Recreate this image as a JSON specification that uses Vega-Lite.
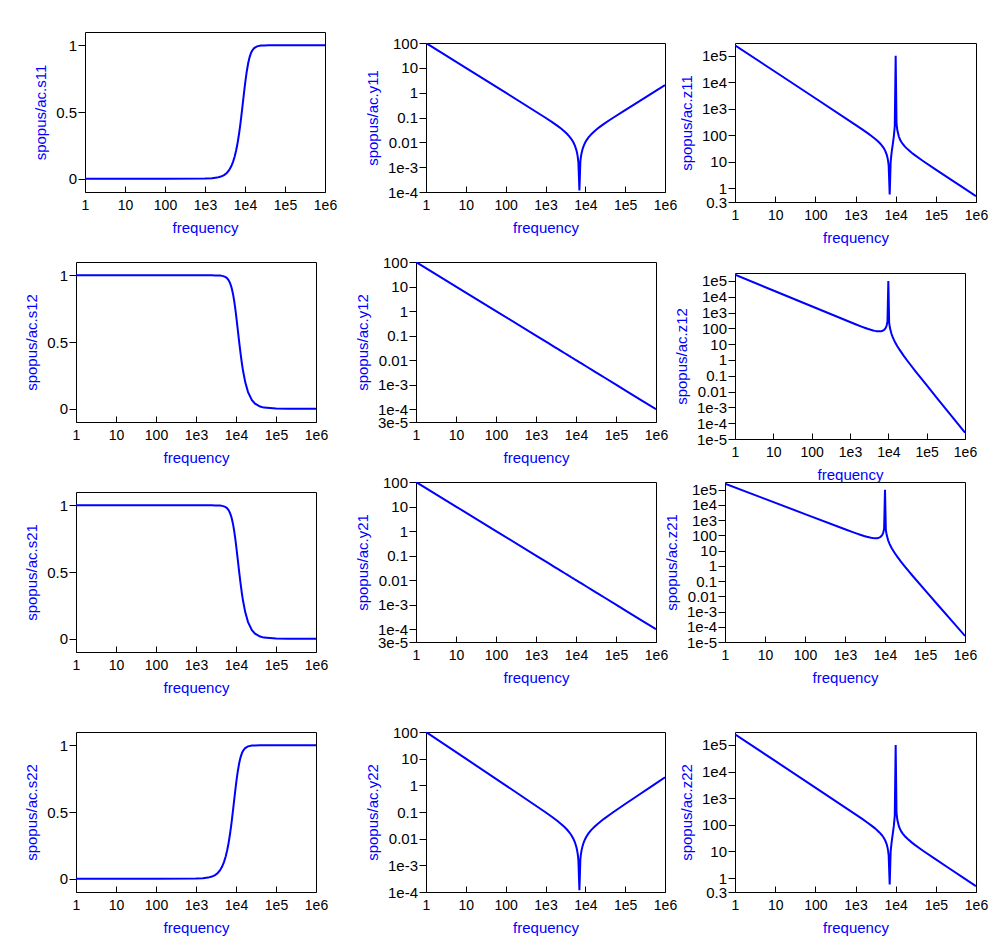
{
  "$schema": "https://vega.github.io/schema/vega-lite/v6.json",
  "padding": 0,
  "background": "white",
  "datasets": {
    "sp": [
      {"f": 1, "s11": 0, "s12": 1, "s21": 1, "s22": 0, "y11": 100, "y12": 100, "y21": 100, "y22": 100, "z11": 250000, "z12": 250000, "z21": 250000, "z22": 250000},
      {"f": 10, "s11": 0, "s12": 1, "s21": 1, "s22": 0, "y11": 10, "y12": 10, "y21": 10, "y22": 10, "z11": 25000, "z12": 25000, "z21": 25000, "z22": 25000},
      {"f": 100, "s11": 0, "s12": 1, "s21": 1, "s22": 0, "y11": 1.0, "y12": 1.0, "y21": 1.0, "y22": 1.0, "z11": 2500, "z12": 2500, "z21": 2500, "z22": 2500},
      {"f": 1000, "s11": 0.001, "s12": 1, "s21": 1, "s22": 0.001, "y11": 0.098, "y12": 0.1, "y21": 0.1, "y22": 0.098, "z11": 247.5, "z12": 252.5, "z21": 252.5, "z22": 247.5},
      {"f": 1500, "s11": 0.0034, "s12": 1, "s21": 1, "s22": 0.0034, "y11": 0.0637, "y12": 0.0667, "y21": 0.0667, "y22": 0.0637, "z11": 162.8, "z12": 170.5, "z21": 170.5, "z22": 162.8},
      {"f": 2000, "s11": 0.008, "s12": 1, "s21": 1, "s22": 0.008, "y11": 0.046, "y12": 0.05, "y21": 0.05, "y22": 0.046, "z11": 119.8, "z12": 130.2, "z21": 130.2, "z22": 119.8},
      {"f": 2500, "s11": 0.0156, "s12": 0.9999, "s21": 0.9999, "s22": 0.0156, "y11": 0.035, "y12": 0.04, "y21": 0.04, "y22": 0.035, "z11": 93.3, "z12": 106.7, "z21": 106.7, "z22": 93.3},
      {"f": 3000, "s11": 0.027, "s12": 0.9996, "s21": 0.9996, "s22": 0.027, "y11": 0.0273, "y12": 0.0333, "y21": 0.0333, "y22": 0.0273, "z11": 75.1, "z12": 91.6, "z21": 91.6, "z22": 75.1},
      {"f": 3500, "s11": 0.0429, "s12": 0.9991, "s21": 0.9991, "s22": 0.0429, "y11": 0.0216, "y12": 0.0286, "y21": 0.0286, "y22": 0.0216, "z11": 61.5, "z12": 81.4, "z21": 81.4, "z22": 61.5},
      {"f": 4000, "s11": 0.0639, "s12": 0.998, "s21": 0.998, "s22": 0.0639, "y11": 0.017, "y12": 0.025, "y21": 0.025, "y22": 0.017, "z11": 50.6, "z12": 74.4, "z21": 74.4, "z22": 50.6},
      {"f": 4500, "s11": 0.0907, "s12": 0.9959, "s21": 0.9959, "s22": 0.0907, "y11": 0.0132, "y12": 0.0222, "y21": 0.0222, "y22": 0.0132, "z11": 41.5, "z12": 69.7, "z21": 69.7, "z22": 41.5},
      {"f": 5000, "s11": 0.124, "s12": 0.9923, "s21": 0.9923, "s22": 0.124, "y11": 0.01, "y12": 0.02, "y21": 0.02, "y22": 0.01, "z11": 33.3, "z12": 66.7, "z21": 66.7, "z22": 33.3},
      {"f": 5500, "s11": 0.1641, "s12": 0.9864, "s21": 0.9864, "s22": 0.1641, "y11": 0.00718, "y12": 0.0182, "y21": 0.0182, "y22": 0.00718, "z11": 25.7, "z12": 65.2, "z21": 65.2, "z22": 25.7},
      {"f": 6000, "s11": 0.2111, "s12": 0.9775, "s21": 0.9775, "s22": 0.2111, "y11": 0.00467, "y12": 0.0167, "y21": 0.0167, "y22": 0.00467, "z11": 18.2, "z12": 65.1, "z21": 65.1, "z22": 18.2},
      {"f": 6300, "s11": 0.2426, "s12": 0.9701, "s21": 0.9701, "s22": 0.2426, "y11": 0.00327, "y12": 0.0159, "y21": 0.0159, "y22": 0.00327, "z11": 13.6, "z12": 65.8, "z21": 65.8, "z22": 13.6},
      {"f": 6500, "s11": 0.2648, "s12": 0.9643, "s21": 0.9643, "s22": 0.2648, "y11": 0.00239, "y12": 0.0154, "y21": 0.0154, "y22": 0.00239, "z11": 10.3, "z12": 66.6, "z21": 66.6, "z22": 10.3},
      {"f": 6700, "s11": 0.288, "s12": 0.9576, "s21": 0.9576, "s22": 0.288, "y11": 0.00153, "y12": 0.0149, "y21": 0.0149, "y22": 0.00153, "z11": 6.92, "z12": 67.7, "z21": 67.7, "z22": 6.92},
      {"f": 7100, "s11": 0.337, "s12": 0.9415, "s21": 0.9415, "s22": 0.337, "y11": 0.000116, "y12": 0.0141, "y21": 0.0141, "y22": 0.000116, "z11": 0.58, "z12": 71.0, "z21": 71.0, "z22": 0.58},
      {"f": 7500, "s11": 0.3887, "s12": 0.9214, "s21": 0.9214, "s22": 0.3887, "y11": 0.00167, "y12": 0.0133, "y21": 0.0133, "y22": 0.00167, "z11": 9.52, "z12": 76.2, "z21": 76.2, "z22": 9.52},
      {"f": 7700, "s11": 0.4153, "s12": 0.9097, "s21": 0.9097, "s22": 0.4153, "y11": 0.00241, "y12": 0.013, "y21": 0.013, "y22": 0.00241, "z11": 14.8, "z12": 79.8, "z21": 79.8, "z22": 14.8},
      {"f": 8000, "s11": 0.4557, "s12": 0.8901, "s21": 0.8901, "s22": 0.4557, "y11": 0.0035, "y12": 0.0125, "y21": 0.0125, "y22": 0.0035, "z11": 24.3, "z12": 86.8, "z21": 86.8, "z22": 24.3},
      {"f": 8500, "s11": 0.5241, "s12": 0.8534, "s21": 0.8534, "s22": 0.5241, "y11": 0.00524, "y12": 0.0118, "y21": 0.0118, "y22": 0.00524, "z11": 47.2, "z12": 106, "z21": 106, "z22": 47.2},
      {"f": 9000, "s11": 0.5891, "s12": 0.8081, "s21": 0.8081, "s22": 0.5891, "y11": 0.00689, "y12": 0.0111, "y21": 0.0111, "y22": 0.00689, "z11": 90.6, "z12": 146.2, "z21": 146.2, "z22": 90.6},
      {"f": 9500, "s11": 0.6509, "s12": 0.7592, "s21": 0.7592, "s22": 0.6509, "y11": 0.00847, "y12": 0.0105, "y21": 0.0105, "y22": 0.00847, "z11": 217.3, "z12": 269.9, "z21": 269.9, "z22": 217.3},
      {"f": 10000, "s11": 0.7071, "s12": 0.7071, "s21": 0.7071, "s22": 0.7071, "y11": 0.01, "y12": 0.01, "y21": 0.01, "y22": 0.01, "z11": 100000, "z12": 100000, "z21": 100000, "z22": 100000},
      {"f": 10500, "s11": 0.7567, "s12": 0.6537, "s21": 0.6537, "s22": 0.7567, "y11": 0.0115, "y12": 0.00952, "y21": 0.00952, "y22": 0.0115, "z11": 279.9, "z12": 232.3, "z21": 232.3, "z22": 279.9},
      {"f": 11000, "s11": 0.7995, "s12": 0.6007, "s21": 0.6007, "s22": 0.7995, "y11": 0.0129, "y12": 0.00909, "y21": 0.00909, "y22": 0.0129, "z11": 153.7, "z12": 108.2, "z21": 108.2, "z22": 153.7},
      {"f": 12000, "s11": 0.8655, "s12": 0.5009, "s21": 0.5009, "s22": 0.8655, "y11": 0.0157, "y12": 0.00833, "y21": 0.00833, "y22": 0.0157, "z11": 89.0, "z12": 47.3, "z21": 47.3, "z22": 89.0},
      {"f": 13000, "s11": 0.9101, "s12": 0.4143, "s21": 0.4143, "s22": 0.9101, "y11": 0.0183, "y12": 0.00769, "y21": 0.00769, "y22": 0.0183, "z11": 66.3, "z12": 27.9, "z21": 27.9, "z22": 66.3},
      {"f": 14000, "s11": 0.9395, "s12": 0.3424, "s21": 0.3424, "s22": 0.9395, "y11": 0.0209, "y12": 0.00714, "y21": 0.00714, "y22": 0.0209, "z11": 54.3, "z12": 18.6, "z21": 18.6, "z22": 54.3},
      {"f": 15000, "s11": 0.9588, "s12": 0.2841, "s21": 0.2841, "s22": 0.9588, "y11": 0.0233, "y12": 0.00667, "y21": 0.00667, "y22": 0.0233, "z11": 46.7, "z12": 13.3, "z21": 13.3, "z22": 46.7},
      {"f": 17000, "s11": 0.9799, "s12": 0.1995, "s21": 0.1995, "s22": 0.9799, "y11": 0.0281, "y12": 0.00588, "y21": 0.00588, "y22": 0.0281, "z11": 37.2, "z12": 7.78, "z21": 7.78, "z22": 37.2},
      {"f": 20000, "s11": 0.9923, "s12": 0.124, "s21": 0.124, "s22": 0.9923, "y11": 0.035, "y12": 0.005, "y21": 0.005, "y22": 0.035, "z11": 29.2, "z12": 4.17, "z21": 4.17, "z22": 29.2},
      {"f": 25000, "s11": 0.998, "s12": 0.0639, "s21": 0.0639, "s22": 0.998, "y11": 0.046, "y12": 0.004, "y21": 0.004, "y22": 0.046, "z11": 21.9, "z12": 1.905, "z21": 1.905, "z22": 21.9},
      {"f": 30000, "s11": 0.9993, "s12": 0.037, "s21": 0.037, "s22": 0.9993, "y11": 0.0567, "y12": 0.00333, "y21": 0.00333, "y22": 0.0567, "z11": 17.7, "z12": 1.04, "z21": 1.04, "z22": 17.7},
      {"f": 40000, "s11": 0.9999, "s12": 0.0156, "s21": 0.0156, "s22": 0.9999, "y11": 0.0775, "y12": 0.0025, "y21": 0.0025, "y22": 0.0775, "z11": 12.9, "z12": 0.417, "z21": 0.417, "z22": 12.9},
      {"f": 50000, "s11": 1, "s12": 0.008, "s21": 0.008, "s22": 1, "y11": 0.098, "y12": 0.002, "y21": 0.002, "y22": 0.098, "z11": 10.2, "z12": 0.208, "z21": 0.208, "z22": 10.2},
      {"f": 100000, "s11": 1, "s12": 0.001, "s21": 0.001, "s22": 1, "y11": 0.199, "y12": 0.001, "y21": 0.001, "y22": 0.199, "z11": 5.03, "z12": 0.0253, "z21": 0.0253, "z22": 5.03},
      {"f": 200000, "s11": 1, "s12": 0.0001, "s21": 0.0001, "s22": 1, "y11": 0.3995, "y12": 0.0005, "y21": 0.0005, "y22": 0.3995, "z11": 2.5, "z12": 0.00313, "z21": 0.00313, "z22": 2.5},
      {"f": 500000, "s11": 1, "s12": 0, "s21": 0, "s22": 1, "y11": 1.0, "y12": 0.0002, "y21": 0.0002, "y22": 1.0, "z11": 1.0, "z12": 0.0002, "z21": 0.0002, "z22": 1.0},
      {"f": 1000000, "s11": 1, "s12": 0, "s21": 0, "s22": 1, "y11": 2.0, "y12": 0.0001, "y21": 0.0001, "y22": 2.0, "z11": 0.5, "z12": 0.000025, "z21": 0.000025, "z22": 0.5}
    ]
  },
  "bounds": "flush",
  "spacing": 0,
  "hconcat": [
    {"bounds": "flush", "spacing": 0, "vconcat": [
      {"width": 1, "height": 32, "data": {"values": []}, "mark": "point", "encoding": {}, "view": {"stroke": null}},
      {"bounds": "flush", "spacing": 0, "hconcat": [
        {"width": 85, "height": 1, "data": {"values": []}, "mark": "point", "encoding": {}, "view": {"stroke": null}},
        {"width": 240, "height": 160, "data": {"name": "sp"},
         "mark": {"type": "line", "color": "#0000ff", "strokeWidth": 2, "clip": true},
         "encoding": {
           "x": {"field": "f", "type": "quantitative", "title": "frequency", "scale": {"type": "log", "domain": [1, 1000000], "nice": false}, "axis": {"values": [1, 10, 100, 1000, 10000, 100000, 1000000], "labelExpr": "datum.value >= 1000 ? '1e' + round(log(datum.value) / LN10) : format(datum.value, '')"}},
           "y": {"field": "s11", "type": "quantitative", "title": "spopus/ac.s11", "scale": {"domain": [-0.1, 1.1], "nice": false, "zero": false}, "axis": {"values": [0, 0.5, 1], "labelExpr": "format(datum.value, '')"}}
         }}
      ]}
    ]},
    {"bounds": "flush", "spacing": 0, "vconcat": [
      {"width": 1, "height": 43, "data": {"values": []}, "mark": "point", "encoding": {}, "view": {"stroke": null}},
      {"bounds": "flush", "spacing": 0, "hconcat": [
        {"width": 426, "height": 1, "data": {"values": []}, "mark": "point", "encoding": {}, "view": {"stroke": null}},
        {"width": 239, "height": 149, "data": {"name": "sp"},
         "mark": {"type": "line", "color": "#0000ff", "strokeWidth": 2, "clip": true},
         "encoding": {
           "x": {"field": "f", "type": "quantitative", "title": "frequency", "scale": {"type": "log", "domain": [1, 1000000], "nice": false}, "axis": {"values": [1, 10, 100, 1000, 10000, 100000, 1000000], "labelExpr": "datum.value >= 1000 ? '1e' + round(log(datum.value) / LN10) : format(datum.value, '')"}},
           "y": {"field": "y11", "type": "quantitative", "title": "spopus/ac.y11", "scale": {"type": "log", "domain": [0.0001, 100], "nice": false}, "axis": {"values": [0.0001, 0.001, 0.01, 0.1, 1, 10, 100], "labelExpr": "abs(datum.value - 3e-5) < 1e-6 ? '3e-5' : (datum.value >= 1000 || datum.value < 0.005) ? '1e' + round(log(datum.value) / LN10) : format(datum.value, '')"}}
         }}
      ]}
    ]},
    {"bounds": "flush", "spacing": 0, "vconcat": [
      {"width": 1, "height": 43, "data": {"values": []}, "mark": "point", "encoding": {}, "view": {"stroke": null}},
      {"bounds": "flush", "spacing": 0, "hconcat": [
        {"width": 735, "height": 1, "data": {"values": []}, "mark": "point", "encoding": {}, "view": {"stroke": null}},
        {"width": 241, "height": 159, "data": {"name": "sp"},
         "mark": {"type": "line", "color": "#0000ff", "strokeWidth": 2, "clip": true},
         "encoding": {
           "x": {"field": "f", "type": "quantitative", "title": "frequency", "scale": {"type": "log", "domain": [1, 1000000], "nice": false}, "axis": {"values": [1, 10, 100, 1000, 10000, 100000, 1000000], "labelExpr": "datum.value >= 1000 ? '1e' + round(log(datum.value) / LN10) : format(datum.value, '')"}},
           "y": {"field": "z11", "type": "quantitative", "title": "spopus/ac.z11", "scale": {"type": "log", "domain": [0.3, 305000], "nice": false}, "axis": {"values": [0.3, 1, 10, 100, 1000, 10000, 100000], "labelExpr": "abs(datum.value - 3e-5) < 1e-6 ? '3e-5' : (datum.value >= 1000 || datum.value < 0.005) ? '1e' + round(log(datum.value) / LN10) : format(datum.value, '')"}}
         }}
      ]}
    ]},
    {"bounds": "flush", "spacing": 0, "vconcat": [
      {"width": 1, "height": 262, "data": {"values": []}, "mark": "point", "encoding": {}, "view": {"stroke": null}},
      {"bounds": "flush", "spacing": 0, "hconcat": [
        {"width": 76, "height": 1, "data": {"values": []}, "mark": "point", "encoding": {}, "view": {"stroke": null}},
        {"width": 240, "height": 160, "data": {"name": "sp"},
         "mark": {"type": "line", "color": "#0000ff", "strokeWidth": 2, "clip": true},
         "encoding": {
           "x": {"field": "f", "type": "quantitative", "title": "frequency", "scale": {"type": "log", "domain": [1, 1000000], "nice": false}, "axis": {"values": [1, 10, 100, 1000, 10000, 100000, 1000000], "labelExpr": "datum.value >= 1000 ? '1e' + round(log(datum.value) / LN10) : format(datum.value, '')"}},
           "y": {"field": "s12", "type": "quantitative", "title": "spopus/ac.s12", "scale": {"domain": [-0.1, 1.1], "nice": false, "zero": false}, "axis": {"values": [0, 0.5, 1], "labelExpr": "format(datum.value, '')"}}
         }}
      ]}
    ]},
    {"bounds": "flush", "spacing": 0, "vconcat": [
      {"width": 1, "height": 262, "data": {"values": []}, "mark": "point", "encoding": {}, "view": {"stroke": null}},
      {"bounds": "flush", "spacing": 0, "hconcat": [
        {"width": 416, "height": 1, "data": {"values": []}, "mark": "point", "encoding": {}, "view": {"stroke": null}},
        {"width": 240, "height": 160, "data": {"name": "sp"},
         "mark": {"type": "line", "color": "#0000ff", "strokeWidth": 2, "clip": true},
         "encoding": {
           "x": {"field": "f", "type": "quantitative", "title": "frequency", "scale": {"type": "log", "domain": [1, 1000000], "nice": false}, "axis": {"values": [1, 10, 100, 1000, 10000, 100000, 1000000], "labelExpr": "datum.value >= 1000 ? '1e' + round(log(datum.value) / LN10) : format(datum.value, '')"}},
           "y": {"field": "y12", "type": "quantitative", "title": "spopus/ac.y12", "scale": {"type": "log", "domain": [0.00003, 100], "nice": false}, "axis": {"values": [0.00003, 0.0001, 0.001, 0.01, 0.1, 1, 10, 100], "labelExpr": "abs(datum.value - 3e-5) < 1e-6 ? '3e-5' : (datum.value >= 1000 || datum.value < 0.005) ? '1e' + round(log(datum.value) / LN10) : format(datum.value, '')"}}
         }}
      ]}
    ]},
    {"bounds": "flush", "spacing": 0, "vconcat": [
      {"width": 1, "height": 273, "data": {"values": []}, "mark": "point", "encoding": {}, "view": {"stroke": null}},
      {"bounds": "flush", "spacing": 0, "hconcat": [
        {"width": 735, "height": 1, "data": {"values": []}, "mark": "point", "encoding": {}, "view": {"stroke": null}},
        {"width": 230, "height": 166, "data": {"name": "sp"},
         "mark": {"type": "line", "color": "#0000ff", "strokeWidth": 2, "clip": true},
         "encoding": {
           "x": {"field": "f", "type": "quantitative", "title": "frequency", "scale": {"type": "log", "domain": [1, 1000000], "nice": false}, "axis": {"values": [1, 10, 100, 1000, 10000, 100000, 1000000], "labelExpr": "datum.value >= 1000 ? '1e' + round(log(datum.value) / LN10) : format(datum.value, '')"}},
           "y": {"field": "z12", "type": "quantitative", "title": "spopus/ac.z12", "scale": {"type": "log", "domain": [0.00001, 320000], "nice": false}, "axis": {"values": [0.00001, 0.0001, 0.001, 0.01, 0.1, 1, 10, 100, 1000, 10000, 100000], "labelExpr": "abs(datum.value - 3e-5) < 1e-6 ? '3e-5' : (datum.value >= 1000 || datum.value < 0.005) ? '1e' + round(log(datum.value) / LN10) : format(datum.value, '')"}}
         }}
      ]}
    ]},
    {"bounds": "flush", "spacing": 0, "vconcat": [
      {"width": 1, "height": 492, "data": {"values": []}, "mark": "point", "encoding": {}, "view": {"stroke": null}},
      {"bounds": "flush", "spacing": 0, "hconcat": [
        {"width": 76, "height": 1, "data": {"values": []}, "mark": "point", "encoding": {}, "view": {"stroke": null}},
        {"width": 240, "height": 160, "data": {"name": "sp"},
         "mark": {"type": "line", "color": "#0000ff", "strokeWidth": 2, "clip": true},
         "encoding": {
           "x": {"field": "f", "type": "quantitative", "title": "frequency", "scale": {"type": "log", "domain": [1, 1000000], "nice": false}, "axis": {"values": [1, 10, 100, 1000, 10000, 100000, 1000000], "labelExpr": "datum.value >= 1000 ? '1e' + round(log(datum.value) / LN10) : format(datum.value, '')"}},
           "y": {"field": "s21", "type": "quantitative", "title": "spopus/ac.s21", "scale": {"domain": [-0.1, 1.1], "nice": false, "zero": false}, "axis": {"values": [0, 0.5, 1], "labelExpr": "format(datum.value, '')"}}
         }}
      ]}
    ]},
    {"bounds": "flush", "spacing": 0, "vconcat": [
      {"width": 1, "height": 482, "data": {"values": []}, "mark": "point", "encoding": {}, "view": {"stroke": null}},
      {"bounds": "flush", "spacing": 0, "hconcat": [
        {"width": 416, "height": 1, "data": {"values": []}, "mark": "point", "encoding": {}, "view": {"stroke": null}},
        {"width": 240, "height": 160, "data": {"name": "sp"},
         "mark": {"type": "line", "color": "#0000ff", "strokeWidth": 2, "clip": true},
         "encoding": {
           "x": {"field": "f", "type": "quantitative", "title": "frequency", "scale": {"type": "log", "domain": [1, 1000000], "nice": false}, "axis": {"values": [1, 10, 100, 1000, 10000, 100000, 1000000], "labelExpr": "datum.value >= 1000 ? '1e' + round(log(datum.value) / LN10) : format(datum.value, '')"}},
           "y": {"field": "y21", "type": "quantitative", "title": "spopus/ac.y21", "scale": {"type": "log", "domain": [0.00003, 100], "nice": false}, "axis": {"values": [0.00003, 0.0001, 0.001, 0.01, 0.1, 1, 10, 100], "labelExpr": "abs(datum.value - 3e-5) < 1e-6 ? '3e-5' : (datum.value >= 1000 || datum.value < 0.005) ? '1e' + round(log(datum.value) / LN10) : format(datum.value, '')"}}
         }}
      ]}
    ]},
    {"bounds": "flush", "spacing": 0, "vconcat": [
      {"width": 1, "height": 482, "data": {"values": []}, "mark": "point", "encoding": {}, "view": {"stroke": null}},
      {"bounds": "flush", "spacing": 0, "hconcat": [
        {"width": 725, "height": 1, "data": {"values": []}, "mark": "point", "encoding": {}, "view": {"stroke": null}},
        {"width": 240, "height": 160, "data": {"name": "sp"},
         "mark": {"type": "line", "color": "#0000ff", "strokeWidth": 2, "clip": true},
         "encoding": {
           "x": {"field": "f", "type": "quantitative", "title": "frequency", "scale": {"type": "log", "domain": [1, 1000000], "nice": false}, "axis": {"values": [1, 10, 100, 1000, 10000, 100000, 1000000], "labelExpr": "datum.value >= 1000 ? '1e' + round(log(datum.value) / LN10) : format(datum.value, '')"}},
           "y": {"field": "z21", "type": "quantitative", "title": "spopus/ac.z21", "scale": {"type": "log", "domain": [0.00001, 320000], "nice": false}, "axis": {"values": [0.00001, 0.0001, 0.001, 0.01, 0.1, 1, 10, 100, 1000, 10000, 100000], "labelExpr": "abs(datum.value - 3e-5) < 1e-6 ? '3e-5' : (datum.value >= 1000 || datum.value < 0.005) ? '1e' + round(log(datum.value) / LN10) : format(datum.value, '')"}}
         }}
      ]}
    ]},
    {"bounds": "flush", "spacing": 0, "vconcat": [
      {"width": 1, "height": 732, "data": {"values": []}, "mark": "point", "encoding": {}, "view": {"stroke": null}},
      {"bounds": "flush", "spacing": 0, "hconcat": [
        {"width": 76, "height": 1, "data": {"values": []}, "mark": "point", "encoding": {}, "view": {"stroke": null}},
        {"width": 240, "height": 160, "data": {"name": "sp"},
         "mark": {"type": "line", "color": "#0000ff", "strokeWidth": 2, "clip": true},
         "encoding": {
           "x": {"field": "f", "type": "quantitative", "title": "frequency", "scale": {"type": "log", "domain": [1, 1000000], "nice": false}, "axis": {"values": [1, 10, 100, 1000, 10000, 100000, 1000000], "labelExpr": "datum.value >= 1000 ? '1e' + round(log(datum.value) / LN10) : format(datum.value, '')"}},
           "y": {"field": "s22", "type": "quantitative", "title": "spopus/ac.s22", "scale": {"domain": [-0.1, 1.1], "nice": false, "zero": false}, "axis": {"values": [0, 0.5, 1], "labelExpr": "format(datum.value, '')"}}
         }}
      ]}
    ]},
    {"bounds": "flush", "spacing": 0, "vconcat": [
      {"width": 1, "height": 732, "data": {"values": []}, "mark": "point", "encoding": {}, "view": {"stroke": null}},
      {"bounds": "flush", "spacing": 0, "hconcat": [
        {"width": 426, "height": 1, "data": {"values": []}, "mark": "point", "encoding": {}, "view": {"stroke": null}},
        {"width": 239, "height": 160, "data": {"name": "sp"},
         "mark": {"type": "line", "color": "#0000ff", "strokeWidth": 2, "clip": true},
         "encoding": {
           "x": {"field": "f", "type": "quantitative", "title": "frequency", "scale": {"type": "log", "domain": [1, 1000000], "nice": false}, "axis": {"values": [1, 10, 100, 1000, 10000, 100000, 1000000], "labelExpr": "datum.value >= 1000 ? '1e' + round(log(datum.value) / LN10) : format(datum.value, '')"}},
           "y": {"field": "y22", "type": "quantitative", "title": "spopus/ac.y22", "scale": {"type": "log", "domain": [0.0001, 100], "nice": false}, "axis": {"values": [0.0001, 0.001, 0.01, 0.1, 1, 10, 100], "labelExpr": "abs(datum.value - 3e-5) < 1e-6 ? '3e-5' : (datum.value >= 1000 || datum.value < 0.005) ? '1e' + round(log(datum.value) / LN10) : format(datum.value, '')"}}
         }}
      ]}
    ]},
    {"bounds": "flush", "spacing": 0, "vconcat": [
      {"width": 1, "height": 732, "data": {"values": []}, "mark": "point", "encoding": {}, "view": {"stroke": null}},
      {"bounds": "flush", "spacing": 0, "hconcat": [
        {"width": 735, "height": 1, "data": {"values": []}, "mark": "point", "encoding": {}, "view": {"stroke": null}},
        {"width": 241, "height": 160, "data": {"name": "sp"},
         "mark": {"type": "line", "color": "#0000ff", "strokeWidth": 2, "clip": true},
         "encoding": {
           "x": {"field": "f", "type": "quantitative", "title": "frequency", "scale": {"type": "log", "domain": [1, 1000000], "nice": false}, "axis": {"values": [1, 10, 100, 1000, 10000, 100000, 1000000], "labelExpr": "datum.value >= 1000 ? '1e' + round(log(datum.value) / LN10) : format(datum.value, '')"}},
           "y": {"field": "z22", "type": "quantitative", "title": "spopus/ac.z22", "scale": {"type": "log", "domain": [0.3, 305000], "nice": false}, "axis": {"values": [0.3, 1, 10, 100, 1000, 10000, 100000], "labelExpr": "abs(datum.value - 3e-5) < 1e-6 ? '3e-5' : (datum.value >= 1000 || datum.value < 0.005) ? '1e' + round(log(datum.value) / LN10) : format(datum.value, '')"}}
         }}
      ]}
    ]}
  ],
  "config": {
    "view": {"stroke": "black", "strokeWidth": 1},
    "axis": {
      "grid": false,
      "domain": false,
      "labelFont": "Liberation Sans",
      "labelFontSize": 14,
      "labelColor": "black",
      "tickColor": "black",
      "tickWidth": 1,
      "titleFont": "Liberation Sans",
      "titleFontSize": 15,
      "titleFontWeight": "normal",
      "titleColor": "#0000ff",
      "labelOverlap": false,
      "labelFlush": false,
      "labelBound": false
    },
    "axisX": {"tickSize": -6, "labelPadding": 12, "titlePadding": 8},
    "axisY": {"tickSize": 7, "labelPadding": 1.5, "titlePadding": 7, "labelFontSize": 15}
  }
}
